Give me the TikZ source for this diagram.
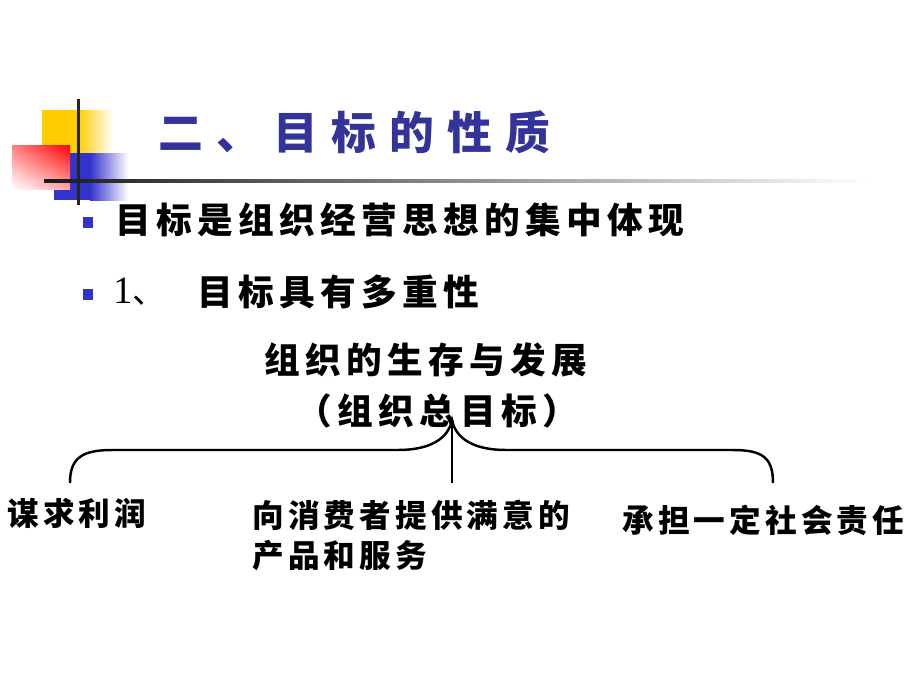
\documentclass[tikz,border=0pt]{standalone}
\usepackage{fontspec}
\usetikzlibrary{shadings}
\newfontfamily\cjk{Noto Sans CJK SC}
\newfontfamily\serifnum{Liberation Serif}
\definecolor{titleblue}{RGB}{51,51,153}
\definecolor{bulletblue}{RGB}{51,51,204}
\definecolor{sqyellow}{RGB}{255,204,0}

\begin{document}
\begin{tikzpicture}[x=0.02cm,y=-0.02cm,
		title/.style={font=\cjk\bfseries\addfontfeature{LetterSpace=29}\fontsize{25.5}{29}\selectfont,text=titleblue,inner sep=0pt},
		point/.style={font=\cjk\bfseries\addfontfeature{LetterSpace=15}\fontsize{20.3}{23}\selectfont,inner sep=0pt},
		item/.style={font=\cjk\bfseries\addfontfeature{LetterSpace=13}\fontsize{18}{22.7}\selectfont,inner sep=0pt},
		bullet/.style={fill=bulletblue,minimum size=0.22cm,inner sep=0pt}]
		\useasboundingbox (0,0) rectangle (920,690);
		% corner squares
		\fill[sqyellow] (42,110) rectangle (78,153);
		\shade[left color=sqyellow,right color=white] (78,110) rectangle (113,153);
		\fill[bulletblue] (54,153) rectangle (90,200);
		\shade[left color=bulletblue,right color=white] (90,153) rectangle (128,200);
		\shade[upper left=red!50,upper right=red,lower left=white,lower right=red!35] (12,145) rectangle (70,189);
		\fill[black!85] (76.5,99) rectangle (79.5,205);
		\shade[left color=black!90,right color=white] (44,179.5) rectangle (870,182.5);
		% texts
		\node[title,anchor=west] (head) at (158,132) {二、目标的性质};
		\node[bullet] (dot1) at (88,222) {};
		\node[point,anchor=west] (line1) at (115,220) {目标是组织经营思想的集中体现};
		\node[bullet] (dot2) at (88,294) {};
		\node[inner sep=0pt,anchor=west] (num) at (113,292) {\serifnum\fontsize{22}{24}\selectfont 1\cjk\fontsize{19}{22}\selectfont 、};
		\node[point,anchor=west] (line2) at (197,292) {目标具有多重性};
		\node[point] (goal) at (426,360) {组织的生存与发展};
		\node[point] (total) at (437,411) {（组织总目标）};
		\node[item,anchor=west] (profit) at (7,513) {谋求利润};
		\node[item,anchor=north west,align=left] (serve) at (252,500) {向消费者提供满意的\\产品和服务};
		\node[item,anchor=west] (duty) at (622,520) {承担一定社会责任};
		% brace
		\coordinate (tip) at (452,420);
		\coordinate (lend) at (70,483);
		\coordinate (rend) at (773,483);
		\coordinate (stem) at (452,483);
		\draw[line width=1.4pt] (lend) .. controls (70,458) and (82,450) .. (112,450) -- (398,450) .. controls (428,450) and (448,440) .. (tip) .. controls (456,440) and (476,450) .. (506,450) -- (733,450) .. controls (763,450) and (773,458) .. (rend);
		\draw[line width=1.1pt] (tip) -- (stem);
	\end{tikzpicture}
\end{document}
